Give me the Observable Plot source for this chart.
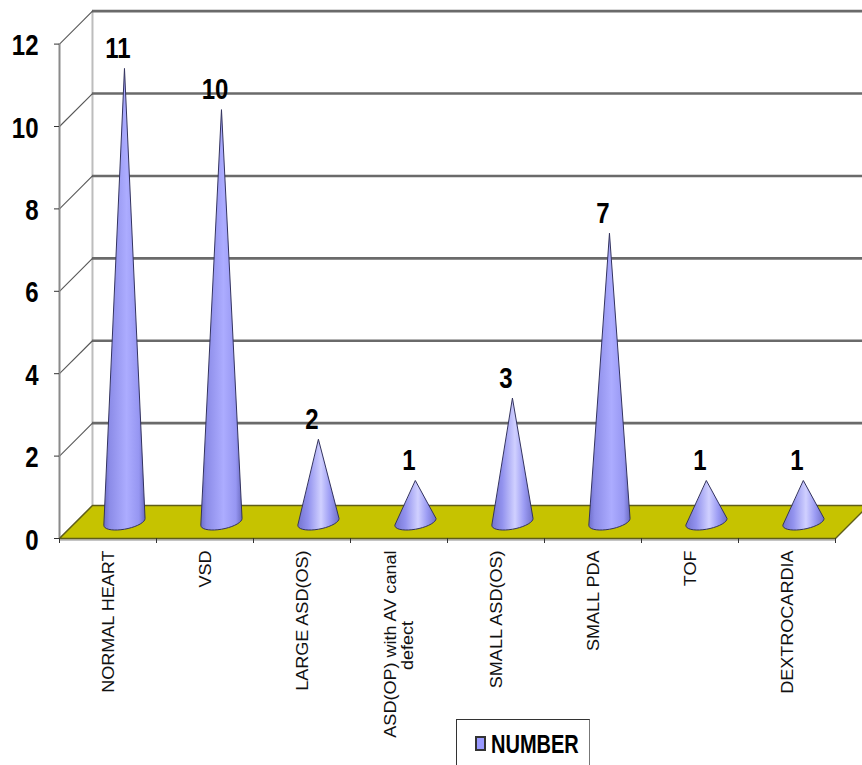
<!DOCTYPE html>
<html>
<head>
<meta charset="utf-8">
<script src="https://cdn.jsdelivr.net/npm/d3@7"></script>
<script src="https://cdn.jsdelivr.net/npm/@observablehq/plot@0.6"></script>
<style>
  html, body { margin: 0; padding: 0; background: #fff; overflow: hidden; }
  #chart { position: relative; width: 862px; height: 765px; }
  #chart svg { display: block; }
  #legend {
    position: absolute; left: 456px; top: 719px; width: 134px; height: 60px;
    border: 1px solid #333; border-right-color: #777; background: #fff; box-sizing: border-box;
    font: bold 25px "Liberation Sans", sans-serif; color: #000;
  }
  #legend i {
    position: absolute; left: 18px; top: 16px; width: 11px; height: 15px; box-sizing: border-box;
    background: #9999ff; border: 2px solid #333;
  }
  #legend span {
    position: absolute; left: 34px; top: 9px; line-height: 30px;
    transform: scaleX(0.8); transform-origin: left center;
  }
</style>
</head>
<body>
<div id="chart"></div>
<script>
const categories = ["NORMAL HEART", "VSD", "LARGE ASD(OS)", "ASD(OP) with AV canal", "SMALL ASD(OS)", "SMALL PDA", "TOF", "DEXTROCARDIA"];
const wrappedLines = ["", "", "", "defect", "", "", "", ""];
const values = [11, 10, 2, 1, 3, 7, 1, 1];
const yTicks = [0, 2, 4, 6, 8, 10, 12];
const seriesName = "NUMBER";

// Oblique depth of the 3D box, in data units of each scale.
const depthX = 0.34;
const depthY = 0.8;
// Cone base ellipse radii and rim tilt, in data units.
const radiusX = 0.212;
const radiusY = 0.175;
const rimTilt = 0.085;

const bandSlots = d3.range(categories.length + 1);
const boldFont = '"Liberation Sans", sans-serif';
const tallCone = 7;

// One closed outline per cone: apex, then the near half of the tilted base ellipse.
const conePoints = values.flatMap((v, i) => {
  const cx = i + 0.5 + depthX / 2;
  const cy = depthY / 2;
  const shade = v >= tallCone ? "url(#coneTall)" : "url(#coneShort)";
  const rim = d3.range(0, 181, 10).map((deg) => {
    const a = (deg * Math.PI) / 180;
    return {
      cone: i, shade,
      x: cx + radiusX * Math.cos(a),
      y: cy - radiusY * Math.sin(a) + rimTilt * Math.cos(a)
    };
  });
  return [{cone: i, shade, x: cx, y: cy + v}, ...rim];
});

const floorOutline = [
  {x: 0, y: 0},
  {x: categories.length, y: 0},
  {x: categories.length + depthX, y: depthY},
  {x: depthX, y: depthY}
];

const ns = "http://www.w3.org/2000/svg";
function gradientDefs() {
  const svg = document.createElementNS(ns, "g");
  const defs = d3.select(svg).append("defs");
  const ramps = {
    coneTall: [[0, "#7070cc"], [0.14, "#8c8ce8"], [0.55, "#acacff"], [0.85, "#9696f2"], [1, "#6a6ac0"]],
    coneShort: [[0, "#7474d0"], [0.25, "#9292ee"], [0.56, "#d0d0ff"], [0.78, "#9c9cf4"], [1, "#7070c8"]]
  };
  for (const [id, stops] of Object.entries(ramps)) {
    const grad = defs.append("linearGradient").attr("id", id).attr("x1", 0).attr("x2", 1).attr("y1", 0).attr("y2", 0);
    stops.forEach(([o, c]) => grad.append("stop").attr("offset", o).attr("stop-color", c));
  }
  return svg;
}

// Rescales text marks along their reading direction.
const stretchedBy = (factor) => (index, scales, channels, dims, context, next) => {
  const g = next(index, scales, channels, dims, context);
  d3.select(g).selectAll("text").attr("transform", function () {
    return this.getAttribute("transform") + ` scale(${factor},1)`;
  });
  return g;
};

const plot = Plot.plot({
  width: 862,
  height: 765,
  marginLeft: 59,
  marginRight: 27,
  marginTop: 43.6,
  marginBottom: 227,
  x: {domain: [0, categories.length], axis: null},
  y: {domain: [0, 12], axis: null},
  style: {background: "transparent", overflow: "hidden"},
  marks: [
    gradientDefs,
    // back wall and left side wall
    Plot.ruleX([depthX], {y1: depthY, y2: 12 + depthY, stroke: "#bdbdbd", strokeWidth: 2}),
    Plot.ruleY(yTicks.slice(1), {
      y: (d) => d + depthY, x1: depthX, x2: categories.length + depthX,
      stroke: "#6a6a6a", strokeWidth: 2.6
    }),
    Plot.link(yTicks, {
      x1: 0, y1: (d) => d, x2: depthX, y2: (d) => d + depthY,
      stroke: "#555", strokeWidth: 1.1
    }),
    Plot.ruleX([0], {y1: 0, y2: 12, stroke: "#8a8a8a", strokeWidth: 2}),
    // floor
    Plot.ruleY([0], {x1: 0, x2: categories.length, stroke: "#c4c4c4", strokeWidth: 3, dy: 1}),
    Plot.line(floorOutline, {
      x: "x", y: "y", curve: "linear-closed",
      fill: "#c6c300", stroke: "#5f5e18", strokeWidth: 1.4
    }),
    // axes
    Plot.axisX(bandSlots, {anchor: "bottom", tickSize: 5, tickFormat: () => "", stroke: "#333", label: null}),
    Plot.axisY(yTicks, {anchor: "left", tickSize: 5, tickFormat: () => "", stroke: "#333", label: null}),
    Plot.text(yTicks, {
      x: 0, y: (d) => d, dx: -21, dy: 1.5,
      text: (d) => String(d),
      textAnchor: "end",
      fontSize: 30, fontWeight: "bold", fontFamily: boldFont, fill: "#000",
      render: stretchedBy(0.8)
    }),
    // cones
    Plot.line(conePoints, {
      x: "x", y: "y", z: "cone", curve: "linear-closed",
      fill: {value: "shade", scale: null}, stroke: "#33335e", strokeWidth: 1, strokeLinejoin: "round"
    }),
    // value labels
    Plot.text(values, {
      x: (d, i) => i + 0.5 + depthX / 2,
      y: (d) => d + depthY / 2,
      text: (d) => String(d),
      dx: -6.5, dy: -20.5, fontSize: 30, fontWeight: "bold", fontFamily: boldFont, fill: "#000",
      render: stretchedBy(0.8)
    }),
    // category labels
    Plot.text(categories, {
      x: (d, i) => i + 0.5 + (wrappedLines[i] ? -0.09 : 0),
      y: 0, dy: 12, dx: 1,
      text: (d) => d,
      rotate: -90, textAnchor: "end", lineAnchor: "middle",
      fontSize: 15.7, fontFamily: '"Liberation Sans", Arial, sans-serif', fill: "#111",
      render: stretchedBy(1.15)
    }),
    Plot.text(wrappedLines, {
      filter: (d) => d,
      x: (d, i) => i + 0.5,
      y: 0, dy: 107, dx: 9,
      text: (d) => d,
      rotate: -90, textAnchor: "middle", lineAnchor: "middle",
      fontSize: 15.7, fontFamily: '"Liberation Sans", Arial, sans-serif', fill: "#111",
      render: stretchedBy(1.15)
    })
  ]
});

const chart = document.getElementById("chart");
chart.append(plot);
const legend = document.createElement("div");
legend.id = "legend";
legend.innerHTML = "<i></i><span></span>";
legend.querySelector("span").textContent = seriesName;
chart.append(legend);
</script>
</body>
</html>
